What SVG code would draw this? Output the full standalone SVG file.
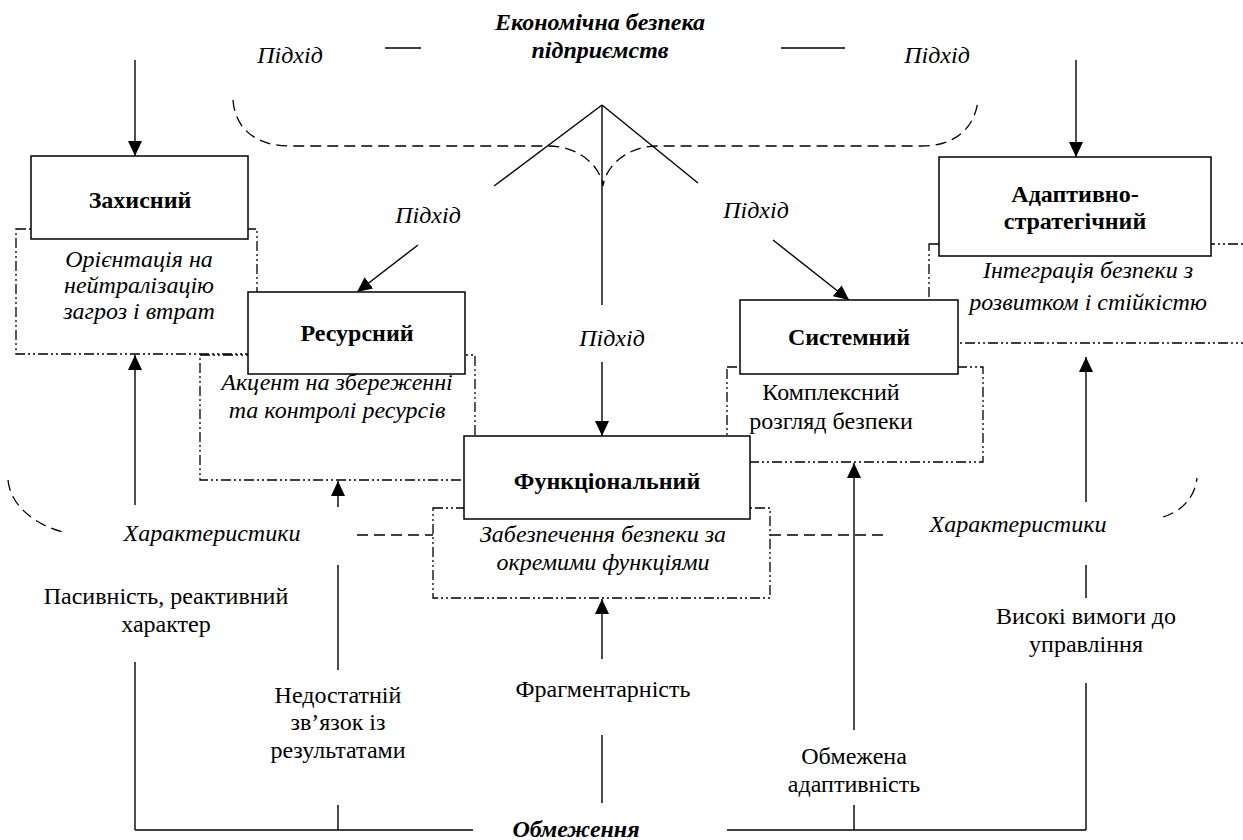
<svg xmlns="http://www.w3.org/2000/svg" width="1243" height="840" viewBox="0 0 1243 840">
<defs>
<marker id="ah" viewBox="0 0 15 14" refX="15" refY="7" markerWidth="15" markerHeight="14" orient="auto" markerUnits="userSpaceOnUse">
<path d="M0,0 L15,7 L0,14 z" fill="#000"/>
</marker>
<style>
text{font-family:'Liberation Serif','Times New Roman',serif;font-size:24px;text-anchor:middle;fill:#000}
.b{font-weight:bold}
.i{font-style:italic}
.bi{font-weight:bold;font-style:italic}
.box{fill:#fff;stroke:#000;stroke-width:1.5}
.dd{fill:#fff;stroke:#000;stroke-width:1.3;stroke-dasharray:10 3 2 3 2 3}
.ln{stroke:#000;stroke-width:1.4;fill:none}
.ar{stroke:#000;stroke-width:1.4;fill:none;marker-end:url(#ah)}
.dash{stroke:#000;stroke-width:1.3;fill:none;stroke-dasharray:11 6}
</style>
</defs>
<rect width="1243" height="840" fill="#fff"/>

<g id="title">
<text class="bi" x="600" y="30">Економічна безпека</text>
<text class="bi" x="600" y="58">підприємств</text>
</g>

<g id="connectors">
<line class="ln" x1="385" y1="48" x2="421" y2="48"/>
<line class="ln" x1="781" y1="48" x2="845" y2="48"/>
<path class="dash" d="M233,100 C235,128 255,146 290,146 L548,146 C578,146 600,165 603,186 C606,165 628,146 658,146 L922,146 C955,146 975,128 978,100"/>
<line class="ln" x1="602" y1="105" x2="494" y2="186"/>
<line class="ln" x1="602" y1="105" x2="698" y2="183"/>
<line class="ln" x1="602" y1="105" x2="602" y2="305"/>
<line class="ar" x1="135" y1="60" x2="135" y2="156"/>
<line class="ar" x1="1076" y1="60" x2="1076" y2="157"/>
<line class="ar" x1="418" y1="245" x2="357" y2="292"/>
<line class="ar" x1="773" y1="240" x2="849" y2="300"/>
<line class="ar" x1="602" y1="362" x2="602" y2="436"/>
<path class="dash" d="M8,480 C10,505 35,526 67,533"/>
<line class="dash" x1="357" y1="535" x2="433" y2="535"/>
<line class="dash" x1="770" y1="535" x2="885" y2="535"/>
<path class="dash" d="M1163,517 C1185,510 1195,495 1197,478"/>
<line class="ar" x1="135" y1="505" x2="135" y2="355"/>
<line class="ar" x1="338" y1="507" x2="338" y2="481"/>
<line class="ar" x1="602" y1="659" x2="602" y2="599"/>
<line class="ar" x1="854" y1="730" x2="854" y2="463"/>
<line class="ar" x1="1086" y1="502" x2="1086" y2="357"/>
<line class="ln" x1="338" y1="565" x2="338" y2="670"/>
<line class="ln" x1="1086" y1="565" x2="1086" y2="598"/>
<line class="ln" x1="135" y1="662" x2="135" y2="830"/>
<line class="ln" x1="338" y1="805" x2="338" y2="830"/>
<line class="ln" x1="602" y1="735" x2="602" y2="803"/>
<line class="ln" x1="854" y1="805" x2="854" y2="830"/>
<line class="ln" x1="1086" y1="683" x2="1086" y2="830"/>
<line class="ln" x1="135" y1="830" x2="473" y2="830"/>
<line class="ln" x1="727" y1="830" x2="1086" y2="830"/>
</g>

<g id="labels">
<text class="i" x="290" y="63">Підхід</text>
<text class="i" x="937" y="63">Підхід</text>
<text class="i" x="428" y="223">Підхід</text>
<text class="i" x="756" y="218">Підхід</text>
<text class="i" x="612" y="346">Підхід</text>
<text class="i" x="212" y="541">Характеристики</text>
<text class="i" x="1018" y="532">Характеристики</text>
<text class="bi" x="576" y="837">Обмеження</text>
</g>

<g id="zakhysnyi-desc">
<rect class="dd" x="16" y="229" width="241" height="125"/>
<text class="i" x="139" y="267">Орієнтація на</text>
<text class="i" x="139" y="293">нейтралізацію</text>
<text class="i" x="139" y="319">загроз і втрат</text>
</g>
<g id="zakhysnyi">
<rect class="box" x="31" y="156" width="217" height="83"/>
<text class="b" x="140" y="208">Захисний</text>
</g>

<g id="adaptyvno-desc">
<rect class="dd" x="929" y="244" width="330" height="99"/>
<text class="i" x="1088" y="278">Інтеграція безпеки з</text>
<text class="i" x="1088" y="310">розвитком і стійкістю</text>
</g>
<g id="adaptyvno">
<rect class="box" x="939" y="157" width="272" height="99"/>
<text class="b" x="1075" y="202">Адаптивно-</text>
<text class="b" x="1075" y="229">стратегічний</text>
</g>

<g id="resursnyi-desc">
<rect class="dd" x="200" y="355" width="275" height="125"/>
<text class="i" x="337" y="390">Акцент на збереженні</text>
<text class="i" x="337" y="418">та контролі ресурсів</text>
</g>
<g id="resursnyi">
<rect class="box" x="248" y="292" width="217" height="82"/>
<text class="b" x="357" y="341">Ресурсний</text>
</g>

<g id="systemnyi-desc">
<rect class="dd" x="727" y="367" width="256" height="95"/>
<text x="831" y="400">Комплексний</text>
<text x="831" y="429">розгляд безпеки</text>
</g>
<g id="systemnyi">
<rect class="box" x="740" y="300" width="218" height="74"/>
<text class="b" x="849" y="345">Системний</text>
</g>

<g id="funktsionalnyi-desc">
<rect class="dd" x="433" y="508" width="337" height="90"/>
<text class="i" x="603" y="542">Забезпечення безпеки за</text>
<text class="i" x="603" y="570">окремими функціями</text>
</g>
<g id="funktsionalnyi">
<rect class="box" x="464" y="436" width="286" height="83"/>
<text class="b" x="607" y="489">Функціональний</text>
</g>

<g id="limits">
<text x="166" y="604">Пасивність, реактивний</text>
<text x="166" y="632">характер</text>
<text x="338" y="703">Недостатній</text>
<text x="338" y="730">зв’язок із</text>
<text x="338" y="758">результатами</text>
<text x="603" y="697">Фрагментарність</text>
<text x="854" y="764">Обмежена</text>
<text x="854" y="792">адаптивність</text>
<text x="1086" y="624">Високі вимоги до</text>
<text x="1086" y="652">управління</text>
</g>
</svg>
